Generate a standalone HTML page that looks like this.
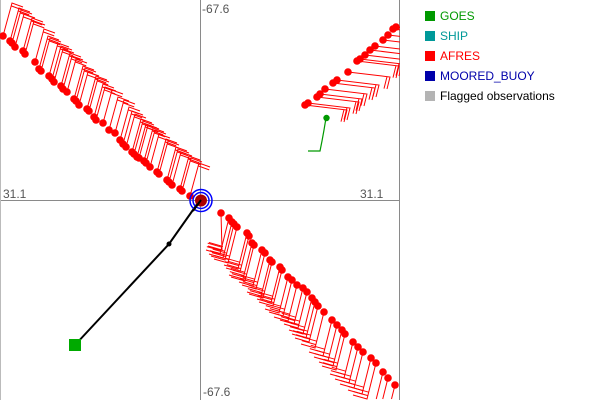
<!DOCTYPE html>
<html>
<head>
<meta charset="utf-8">
<style>
html,body{margin:0;padding:0;background:#fff;width:600px;height:400px;overflow:hidden;}
svg{display:block;overflow:hidden;}
text{font-family:"Liberation Sans",Arial,sans-serif;}
</style>
</head>
<body>
<svg width="600" height="400" viewBox="0 0 600 400" xmlns="http://www.w3.org/2000/svg" xmlns:xlink="http://www.w3.org/1999/xlink">
<defs>
<clipPath id="pc"><rect x="0" y="0" width="400" height="400"/></clipPath>
<g id="a"><path d="M0 0l9 -33l11 4m-11.8 -1.1l11 4" fill="none" stroke="#f00"/><circle r="3.8" fill="#f00"/></g>
<g id="b"><path d="M0 0l-9 36l-14 -4m14.85 0.6l-14 -4m14.85 0.6l-14 -4" fill="none" stroke="#f00"/><circle r="3.8" fill="#f00"/></g>
<g id="c"><path d="M0 0l42 5l-3 12m0 -12.4l-3 12" fill="none" stroke="#f00"/><circle r="3.8" fill="#f00"/></g>
</defs>
<rect x="0" y="0" width="600" height="400" fill="#fff"/>
<g stroke="#8a8a8a" stroke-width="1" shape-rendering="crispEdges">
<line x1="200.5" y1="0" x2="200.5" y2="400"/>
<line x1="0" y1="200.5" x2="400" y2="200.5"/>
<line x1="399.5" y1="0" x2="399.5" y2="400"/>
<line x1="0.5" y1="0" x2="0.5" y2="400" stroke="#bbb"/>
</g>
<g fill="#555" font-size="12">
<text x="202" y="13">-67.6</text>
<text x="3" y="198">31.1</text>
<text x="360" y="198">31.1</text>
<text x="203" y="396">-67.6</text>
</g>
<g clip-path="url(#pc)">
<g>
<use xlink:href="#a" x="3" y="36"/><use xlink:href="#a" x="10" y="41"/><use xlink:href="#a" x="12" y="43"/>
<use xlink:href="#a" x="15" y="47"/><use xlink:href="#a" x="23" y="51"/><use xlink:href="#a" x="25" y="54"/>
<use xlink:href="#a" x="35" y="62"/><use xlink:href="#a" x="39" y="69"/><use xlink:href="#a" x="41" y="71"/>
<use xlink:href="#a" x="49" y="76"/><use xlink:href="#a" x="52" y="79"/><use xlink:href="#a" x="54" y="82"/>
<use xlink:href="#a" x="61" y="86"/><use xlink:href="#a" x="63" y="89"/><use xlink:href="#a" x="67" y="92"/>
<use xlink:href="#a" x="74" y="99"/><use xlink:href="#a" x="76" y="101"/><use xlink:href="#a" x="79" y="105"/>
<use xlink:href="#a" x="87" y="109"/><use xlink:href="#a" x="89" y="111"/><use xlink:href="#a" x="94" y="117"/>
<use xlink:href="#a" x="96" y="120"/><use xlink:href="#a" x="103" y="123"/><use xlink:href="#a" x="109" y="130"/>
<use xlink:href="#a" x="115" y="133"/><use xlink:href="#a" x="120" y="140"/><use xlink:href="#a" x="123" y="144"/>
<use xlink:href="#a" x="126" y="147"/><use xlink:href="#a" x="132" y="152"/><use xlink:href="#a" x="134" y="154"/>
<use xlink:href="#a" x="137" y="157"/><use xlink:href="#a" x="139" y="158"/><use xlink:href="#a" x="144" y="161"/>
<use xlink:href="#a" x="146" y="163"/><use xlink:href="#a" x="150" y="167"/><use xlink:href="#a" x="157" y="172"/>
<use xlink:href="#a" x="159" y="174"/><use xlink:href="#a" x="167" y="180"/><use xlink:href="#a" x="169" y="182"/>
<use xlink:href="#a" x="172" y="185"/><use xlink:href="#a" x="180" y="189"/><use xlink:href="#a" x="182" y="191"/>
<use xlink:href="#a" x="190" y="196"/>
</g>
<g>
<path d="M221 213l1 37l-14 -4m14.9 0.5l-14 -4" fill="none" stroke="#f00"/><circle cx="221" cy="213" r="3.8" fill="#f00"/>
<use xlink:href="#b" x="229" y="218"/><use xlink:href="#b" x="232" y="222"/>
<use xlink:href="#b" x="234" y="224"/><use xlink:href="#b" x="237" y="227"/><use xlink:href="#b" x="247" y="233"/>
<use xlink:href="#b" x="249" y="236"/><use xlink:href="#b" x="252" y="243"/><use xlink:href="#b" x="254" y="245"/>
<use xlink:href="#b" x="262" y="250"/><use xlink:href="#b" x="265" y="253"/><use xlink:href="#b" x="270" y="260"/>
<use xlink:href="#b" x="272" y="262"/><use xlink:href="#b" x="280" y="267"/><use xlink:href="#b" x="282" y="270"/>
<use xlink:href="#b" x="288" y="277"/><use xlink:href="#b" x="292" y="280"/><use xlink:href="#b" x="297" y="285"/>
<use xlink:href="#b" x="303" y="288"/><use xlink:href="#b" x="307" y="292"/><use xlink:href="#b" x="312" y="298"/>
<use xlink:href="#b" x="315" y="302"/><use xlink:href="#b" x="318" y="306"/><use xlink:href="#b" x="324" y="312"/>
<use xlink:href="#b" x="332" y="320"/><use xlink:href="#b" x="337" y="325"/><use xlink:href="#b" x="342" y="330"/>
<use xlink:href="#b" x="345" y="334"/><use xlink:href="#b" x="353" y="342"/><use xlink:href="#b" x="358" y="347"/>
<use xlink:href="#b" x="363" y="352"/><use xlink:href="#b" x="371" y="358"/><use xlink:href="#b" x="376" y="363"/>
<path d="M383 372l-6.75 27M388 378l-5.25 21M395 385l-3.5 14" fill="none" stroke="#f00"/>
<circle cx="383" cy="372" r="3.8" fill="#f00"/><circle cx="388" cy="378" r="3.8" fill="#f00"/><circle cx="395" cy="385" r="3.8" fill="#f00"/>
</g>
<g>
<use xlink:href="#c" x="305" y="105"/><use xlink:href="#c" x="308" y="103"/><use xlink:href="#c" x="317" y="97"/>
<use xlink:href="#c" x="320" y="94"/><use xlink:href="#c" x="325" y="89"/><use xlink:href="#c" x="333" y="83"/>
<use xlink:href="#c" x="337" y="80"/><use xlink:href="#c" x="348" y="72"/><use xlink:href="#c" x="357" y="61"/>
<use xlink:href="#c" x="360" y="59"/><use xlink:href="#c" x="365" y="55"/><use xlink:href="#c" x="370" y="50"/>
<use xlink:href="#c" x="375" y="46"/><use xlink:href="#c" x="383" y="40"/><use xlink:href="#c" x="388" y="35"/>
<use xlink:href="#c" x="393" y="29"/><use xlink:href="#c" x="396" y="27"/>
</g>
<polyline fill="none" stroke="#009900" stroke-width="1.2" points="326,118 324,130 322,141 320,151 308,151"/>
<circle cx="326.5" cy="118" r="3.2" fill="#009900"/>
<polyline fill="none" stroke="#000" stroke-width="2" points="75,345 169,244 200,200"/>
<circle cx="169" cy="244" r="2.5" fill="#000"/>
<rect x="69" y="339" width="12" height="12" fill="#00aa00"/>
<circle cx="201" cy="200.5" r="11" fill="none" stroke="#0000ff" stroke-width="1.5"/>
<circle cx="201" cy="200.5" r="8" fill="none" stroke="#0000ff" stroke-width="1.5"/>
<circle cx="201" cy="200.5" r="6" fill="#aa0000"/>
<line x1="193" y1="211" x2="201" y2="200" stroke="#000" stroke-width="2"/>
</g>
<g font-size="12">
<rect x="425" y="11" width="10" height="10" fill="#009900"/>
<text x="440" y="20" fill="#009900">GOES</text>
<rect x="425" y="31" width="10" height="10" fill="#009999"/>
<text x="440" y="40" fill="#009999">SHIP</text>
<rect x="425" y="51" width="10" height="10" fill="#ff0000"/>
<text x="440" y="60" fill="#ff0000">AFRES</text>
<rect x="425" y="71" width="10" height="10" fill="#0000aa"/>
<text x="440" y="80" fill="#0000aa">MOORED_BUOY</text>
<rect x="425" y="91" width="10" height="10" fill="#b4b4b4"/>
<text x="440" y="100" fill="#000">Flagged observations</text>
</g>
</svg>
</body>
</html>
